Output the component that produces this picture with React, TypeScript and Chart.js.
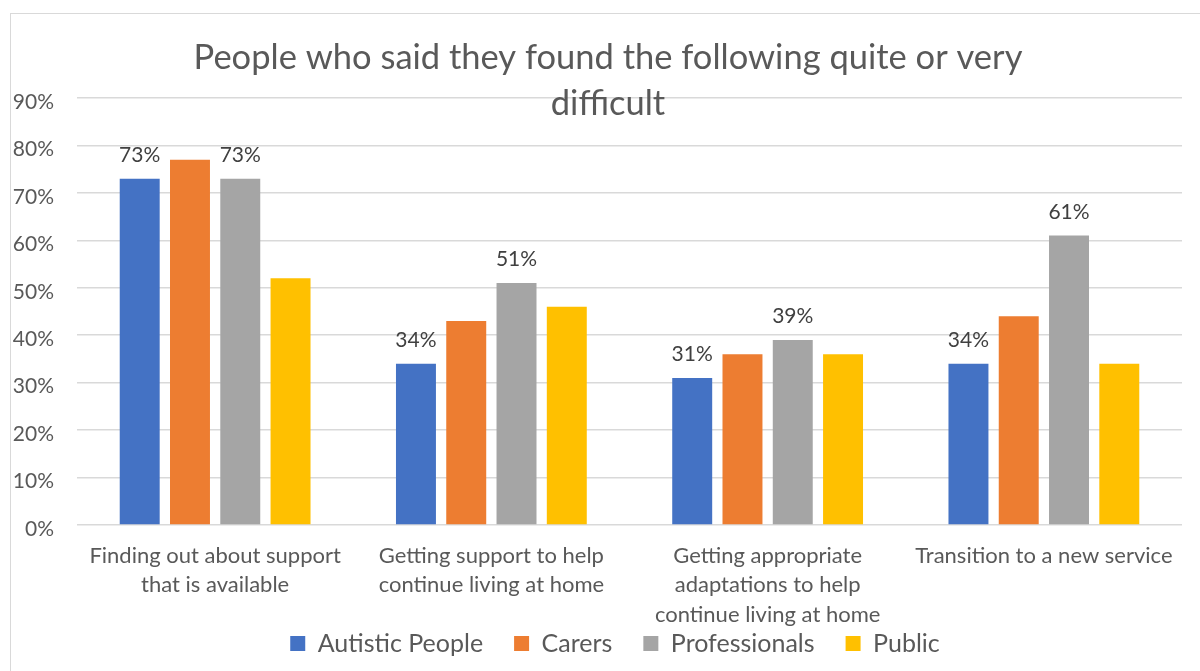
import React, { useEffect, useRef } from "react";
import { Chart, registerables } from "chart.js";

Chart.register(...registerables);

const titleLines = [
  "People who said they found the following quite or very",
  "difficult",
];
const categories = [
  ["Finding out about support", "that is available"],
  ["Getting support to help", "continue living at home"],
  ["Getting appropriate", "adaptations to help", "continue living at home"],
  ["Transition to a new service"],
];
const seriesNames = ["Autistic People", "Carers", "Professionals", "Public"];
const autisticPeople = [73, 34, 31, 34];
const carers = [77, 43, 36, 44];
const professionals = [73, 51, 39, 61];
const publicValues = [52, 46, 36, 34];
const seriesColors = ["#4472C4", "#ED7D31", "#A5A5A5", "#FFC000"];
const labelledSeries = [0, 2];
const yMin = 0;
const yMax = 90;
const yStep = 10;

const FONT = "Lato";

const titlePlugin = {
  id: "overlayTitle",
  afterDraw(chart: any) {
    const ctx = chart.ctx;
    ctx.save();
    ctx.font = `34.5px ${FONT}`;
    ctx.fillStyle = "#595959";
    ctx.textAlign = "center";
    ctx.textBaseline = "alphabetic";
    const cx = 608;
    titleLines.forEach((line, i) => {
      ctx.fillText(line, cx, 69 + i * 46);
    });
    ctx.restore();
  },
};

const dataLabelPlugin = {
  id: "dataLabels",
  afterDatasetsDraw(chart: any) {
    const ctx = chart.ctx;
    ctx.save();
    ctx.font = `21px ${FONT}`;
    ctx.fillStyle = "#404040";
    ctx.textAlign = "center";
    ctx.textBaseline = "alphabetic";
    labelledSeries.forEach((di) => {
      const meta = chart.getDatasetMeta(di);
      const values = chart.data.datasets[di].data as number[];
      meta.data.forEach((bar: any, i: number) => {
        ctx.fillText(`${values[i]}%`, bar.x, bar.y - 17);
      });
    });
    ctx.restore();
  },
};

export default function App() {
  const canvasRef = useRef<HTMLCanvasElement | null>(null);

  useEffect(() => {
    if (!canvasRef.current) return;
    const seriesData = [autisticPeople, carers, professionals, publicValues];
    const chart = new Chart(canvasRef.current, {
      type: "bar",
      data: {
        labels: categories,
        datasets: seriesNames.map((name, i) => ({
          label: name,
          data: seriesData[i],
          backgroundColor: seriesColors[i],
          borderWidth: 0,
          categoryPercentage: 0.728,
          barPercentage: 0.795,
        })),
      },
      options: {
        animation: false,
        responsive: true,
        maintainAspectRatio: false,
        layout: { padding: { top: 98, left: 48, right: 18, bottom: 5 } },
        plugins: {
          title: { display: false },
          tooltip: { enabled: false },
          legend: {
            display: true,
            position: "bottom",
            labels: {
              boxWidth: 15,
              boxHeight: 15,
              padding: 31,
              color: "#595959",
              font: { family: FONT, size: 25 },
            },
          },
        },
        scales: {
          x: {
            grid: { display: false, drawTicks: false },
            border: { display: false },
            ticks: {
              color: "#595959",
              font: { family: FONT, size: 22, lineHeight: 1.34 },
              padding: 16,
              maxRotation: 0,
              autoSkip: false,
            },
            afterFit(scale: any) {
              scale.height = 75;
              scale._computeLabelArea = () => undefined;
            },
          },
          y: {
            min: yMin,
            max: yMax,
            grid: { color: "#D9D9D9", lineWidth: 1.5, drawTicks: false },
            border: { display: false },
            ticks: {
              stepSize: yStep,
              color: "#595959",
              font: { family: FONT, size: 21 },
              padding: 23,
              labelOffset: 4,
              callback: (v: any) => `${v}%`,
            },
            afterFit(scale: any) {
              scale.width = 29;
              scale._computeLabelArea = () => undefined;
            },
          },
        },
      },
      plugins: [titlePlugin, dataLabelPlugin],
    });
    return () => chart.destroy();
  }, []);

  return (
    <div
      style={{
        position: "fixed",
        left: 0,
        top: 0,
        width: 1200,
        height: 671,
        overflow: "hidden",
        background: "#ffffff",
      }}
    >
      <div
        style={{
          position: "absolute",
          left: 10,
          top: 13,
          width: 1250,
          height: 720,
          border: "1.5px solid #D9D9D9",
          boxSizing: "border-box",
        }}
      />
      <div style={{ position: "absolute", left: 0, top: 0, width: 1200, height: 671 }}>
        <canvas ref={canvasRef} />
      </div>
    </div>
  );
}
